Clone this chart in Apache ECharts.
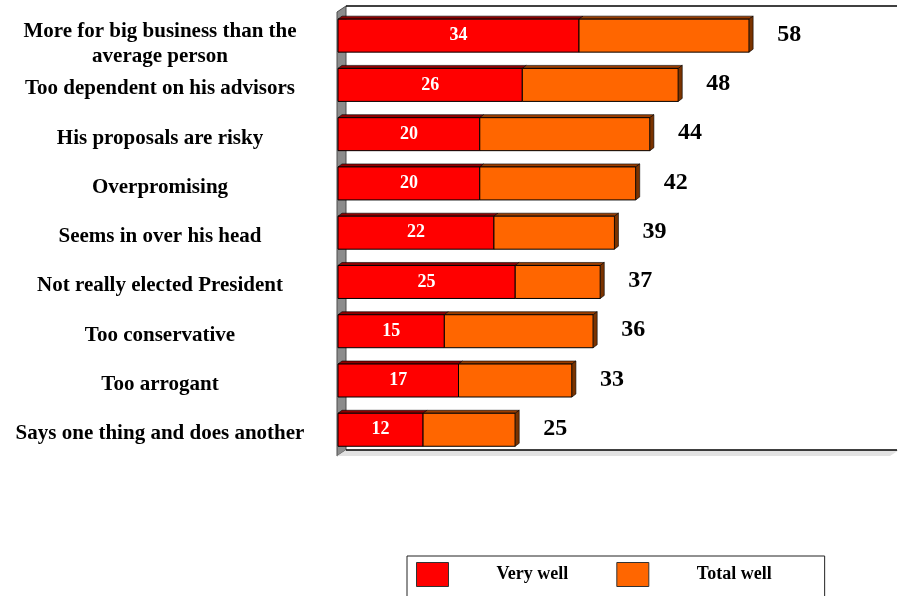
<!DOCTYPE html>
<html>
<head>
<meta charset="utf-8">
<script src="https://cdn.jsdelivr.net/npm/echarts@6/dist/echarts.min.js"></script>
<style>
  html, body { margin: 0; padding: 0; background: #fff; }
  #chart { width: 898px; height: 596px; }
</style>
</head>
<body>
<div id="chart"></div>
<script>
// Criticisms of the President: share saying each describes him "very well" / "well" in total
const categories = [
  'More for big business than the\naverage person',
  'Too dependent on his advisors',
  'His proposals are risky',
  'Overpromising',
  'Seems in over his head',
  'Not really elected President',
  'Too conservative',
  'Too arrogant',
  'Says one thing and does another'
];
const veryWell = [34, 26, 20, 20, 22, 25, 15, 17, 12];
const totalWell = [58, 48, 44, 42, 39, 37, 36, 33, 25];
const seriesNames = ['Very well', 'Total well'];

const SERIF = '"Liberation Serif", "Times New Roman", serif';
const BAR_H = 33;
const DX = 4, DY = 3;

const chart = echarts.init(document.getElementById('chart'));

// 3D-looking bar segment: front face, top face and (for the outer end) a side face
function makeRenderer(front, top, side, isOuter) {
  return function (params, api) {
    const start = api.value(0), end = api.value(1), idx = api.value(2);
    const p0 = api.coord([start, idx]);
    const p1 = api.coord([end, idx]);
    const x0 = p0[0], x1 = p1[0];
    const yc = p0[1];
    const y0 = yc - BAR_H / 2, y1 = yc + BAR_H / 2;
    const children = [
      {
        type: 'polygon',
        shape: { points: [[x0, y0], [x1, y0], [x1 + DX, y0 - DY], [x0 + DX, y0 - DY]] },
        style: { fill: top, stroke: '#000', lineWidth: 0.6 }
      },
      {
        type: 'rect',
        shape: { x: x0, y: y0, width: x1 - x0, height: BAR_H },
        style: { fill: front, stroke: '#000', lineWidth: 1 }
      }
    ];
    if (isOuter) {
      children.push({
        type: 'polygon',
        shape: { points: [[x1, y0], [x1 + DX, y0 - DY], [x1 + DX, y1 - DY], [x1, y1]] },
        style: { fill: side, stroke: '#000', lineWidth: 0.6 }
      });
      children.push({
        type: 'text',
        style: {
          text: String(end), x: x1 + 28, y: yc - 1,
          align: 'left', textAlign: 'left',
          verticalAlign: 'middle', textVerticalAlign: 'middle',
          fill: '#000', font: 'bold 24px ' + SERIF
        }
      });
    } else {
      children.push({
        type: 'text',
        style: {
          text: String(end), x: (x0 + x1) / 2, y: yc,
          align: 'center', textAlign: 'center',
          verticalAlign: 'middle', textVerticalAlign: 'middle',
          fill: '#fff', font: 'bold 18px ' + SERIF
        }
      });
    }
    return { type: 'group', children: children };
  };
}

const veryData = veryWell.map((v, i) => [0, v, i]);
const totalData = totalWell.map((t, i) => [veryWell[i], t, i]);

// plot frame: grey side wall, back-wall edges and floor strip
const wallX0 = 337, wallX1 = 346, wallTop = 6, wallBottom = 450, frameRight = 897;

const option = {
  animation: false,
  backgroundColor: '#fff',
  grid: { left: 338, top: 11, width: 560, height: 443.4, containLabel: false },
  xAxis: {
    type: 'value', min: 0, max: 79,
    axisLine: { show: false }, axisTick: { show: false },
    axisLabel: { show: false }, splitLine: { show: false }
  },
  yAxis: {
    type: 'category', data: categories, inverse: true,
    axisLine: { show: false }, axisTick: { show: false },
    axisLabel: {
      margin: 178,
      align: 'center',
      padding: [8, 0, 0, 0],
      formatter: function (name) {
        const lines = name.split('\n');
        const body = lines.map(l => '{t|' + l + '}').join('\n');
        return lines.length > 1 ? '{s| }\n' + body : body;
      },
      rich: {
        t: { fontFamily: SERIF, fontWeight: 'bold', fontSize: 21, color: '#000', lineHeight: 25, align: 'center' },
        s: { fontSize: 8, lineHeight: 9 }
      }
    }
  },
  legend: {
    left: 407, top: 556,
    orient: 'horizontal',
    icon: 'rect',
    itemWidth: 32, itemHeight: 24, itemGap: 48,
    padding: [6, 53, 20, 9],
    borderColor: '#222', borderWidth: 1,
    backgroundColor: '#fff',
    itemStyle: { borderColor: '#333', borderWidth: 1 },
    textStyle: {
      fontFamily: SERIF, fontWeight: 'bold', fontSize: 18, color: '#000',
      padding: [6, 0, 0, 43]
    },
    data: seriesNames
  },
  graphic: [
    {
      type: 'polygon', z: 0,
      shape: { points: [[wallX0, wallTop + 6], [wallX1, wallTop], [wallX1, wallBottom], [wallX0, wallBottom + 6]] },
      style: { fill: '#8c8c8c', stroke: '#4d4d4d', lineWidth: 1 }
    },
    {
      type: 'polygon', z: 0,
      shape: { points: [[wallX0, wallBottom + 6], [wallX1, wallBottom], [frameRight + 2, wallBottom], [frameRight - 7, wallBottom + 6]] },
      style: { fill: '#e2e2e2' }
    },
    {
      type: 'line', z: 1,
      shape: { x1: wallX1, y1: wallTop, x2: frameRight, y2: wallTop },
      style: { stroke: '#000', lineWidth: 1.5 }
    },
    {
      type: 'line', z: 1,
      shape: { x1: wallX1, y1: wallBottom, x2: frameRight, y2: wallBottom },
      style: { stroke: '#000', lineWidth: 1.5 }
    }
  ],
  series: [
    {
      name: seriesNames[0], type: 'custom',
      itemStyle: { color: '#ff0000' },
      encode: { x: [0, 1], y: 2 },
      renderItem: makeRenderer('#ff0000', '#8f0000', '#800000', false),
      data: veryData, z: 3
    },
    {
      name: seriesNames[1], type: 'custom',
      itemStyle: { color: '#ff6600' },
      encode: { x: [0, 1], y: 2 },
      renderItem: makeRenderer('#ff6600', '#9a3d00', '#7a3300', true),
      data: totalData, z: 3
    }
  ]
};

chart.setOption(option);
</script>
</body>
</html>
